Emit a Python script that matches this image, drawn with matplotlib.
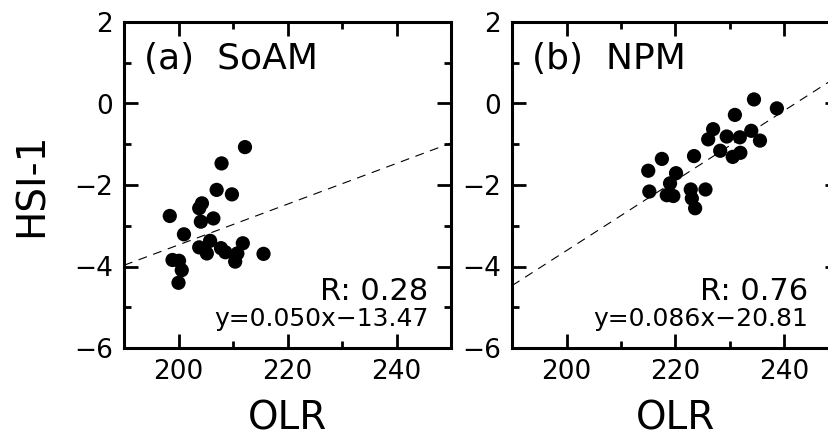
import matplotlib
matplotlib.use("Agg")
import matplotlib.pyplot as plt
import numpy as np
from matplotlib.ticker import MultipleLocator

# panel (a) SoAM
olr_a = [198.4, 201.0, 198.9, 200.1, 200.6, 200.0, 203.8, 204.3, 204.1, 206.4,
         203.8, 205.8, 205.2, 207.0, 207.9, 209.8, 212.2, 207.8, 208.6, 210.4,
         210.8, 211.8, 215.6]
hsi_a = [-2.76, -3.21, -3.84, -3.86, -4.09, -4.40, -2.57, -2.45, -2.90, -2.82,
         -3.53, -3.37, -3.68, -2.12, -1.47, -2.23, -1.07, -3.55, -3.65, -3.88,
         -3.68, -3.43, -3.69]

# panel (b) NPM
olr_b = [215.0, 215.2, 217.5, 220.1, 219.0, 218.4, 219.6, 222.8, 223.0, 223.6,
         223.4, 225.5, 226.0, 226.9, 228.2, 229.4, 230.9, 230.5, 231.8, 231.9,
         233.9, 234.4, 235.5, 238.6]
hsi_b = [-1.65, -2.16, -1.36, -1.71, -1.96, -2.25, -2.27, -2.11, -2.33, -2.57,
         -1.29, -2.11, -0.88, -0.63, -1.16, -0.81, -0.28, -1.31, -0.83, -1.21,
         -0.67, 0.10, -0.91, -0.12]

panels = [
    ("(a)  SoAM", olr_a, hsi_a, 0.28, 0.050, -13.47),
    ("(b)  NPM", olr_b, hsi_b, 0.76, 0.086, -20.81),
]

W, H = 829, 440
plt.rcParams["font.family"] = "DejaVu Sans"
fig = plt.figure(figsize=(W / 100, H / 100), dpi=100)

lefts = [124, 512]
text_right = [0.93, 0.905]
ax_w = 327
for i, (title, x, y, r, slope, icpt) in enumerate(panels):
    ax = fig.add_axes([lefts[i] / W, 1 - 348 / H, ax_w / W, (348 - 22) / H])
    ax.scatter(x, y, s=105, color="black", edgecolors="none", zorder=3)
    xx = np.array([190, 250])
    ax.plot(xx, slope * xx + icpt, color="black", lw=0.8, ls=(0, (8, 6)))
    ax.set_xlim(190, 250)
    ax.set_ylim(-6, 2)
    ax.set_xticks([200, 220, 240])
    ax.xaxis.set_minor_locator(MultipleLocator(10))
    ax.yaxis.set_major_locator(MultipleLocator(2))
    ax.yaxis.set_minor_locator(MultipleLocator(1))
    ax.tick_params(which="both", direction="in", top=True, right=True, width=2)
    ax.tick_params(which="major", length=10, labelsize=19, pad=8)
    ax.tick_params(which="minor", length=5)
    for sp in ax.spines.values():
        sp.set_linewidth(2.2)
    ax.text(0.06, 0.94, title, transform=ax.transAxes, fontsize=26,
            ha="left", va="top")
    ax.text(text_right[i], 0.147, f"R: {r:.2f}", transform=ax.transAxes,
            fontsize=22, ha="right", va="baseline")
    ax.text(text_right[i], 0.068, f"y={slope:.3f}x\u2212{abs(icpt):.2f}",
            transform=ax.transAxes, fontsize=18, ha="right", va="baseline")
    # x label placed by its baseline
    fig.text((lefts[i] + ax_w / 2) / W, 1 - 429 / H, "OLR", fontsize=28,
             ha="center", va="baseline")
    if i == 0:
        ax.set_ylabel("HSI-1", fontsize=28, labelpad=17)

fig.savefig("out.png", dpi=100)
